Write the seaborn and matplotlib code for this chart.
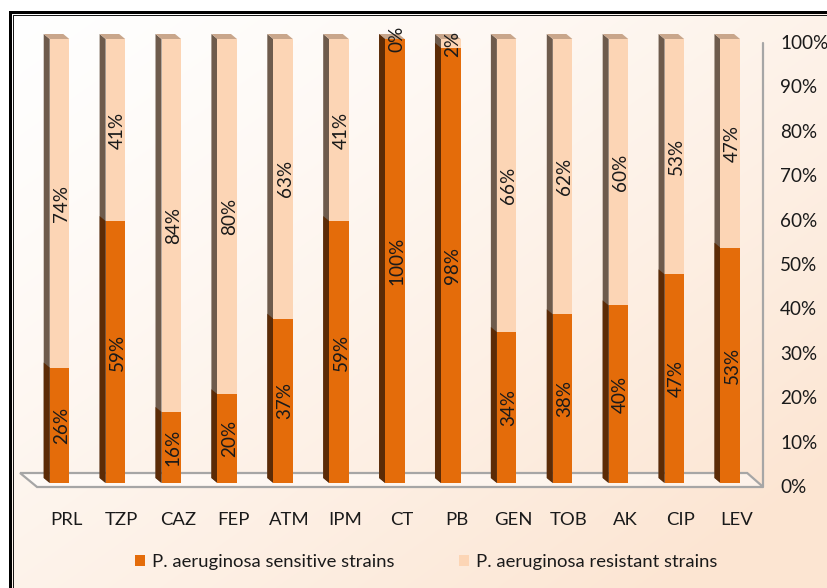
import numpy as np
import pandas as pd
import matplotlib
matplotlib.use("Agg")
import matplotlib.pyplot as plt
import seaborn as sns
from matplotlib.patches import Polygon, Patch
from matplotlib.lines import Line2D
from matplotlib.transforms import ScaledTranslation, blended_transform_factory

categories = ["PRL", "TZP", "CAZ", "FEP", "ATM", "IPM", "CT", "PB", "GEN", "TOB", "AK", "CIP", "LEV"]
sensitive = [26, 59, 16, 20, 37, 59, 100, 98, 34, 38, 40, 47, 53]
resistant = [74, 41, 84, 80, 63, 41, 0, 2, 66, 62, 60, 53, 47]
y_ticks = [0, 10, 20, 30, 40, 50, 60, 70, 80, 90, 100]
y_tick_labels = [f"{t}%" for t in y_ticks]
series_names = ["P. aeruginosa sensitive strains", "P. aeruginosa resistant strains"]

sens_color = "#E46C0A"
res_color = "#FCD5B5"
sens_side = "#5C2B06"
res_side = "#6E5B4C"
cap_color = "#C9A68B"
floor_color = "#A6A6A6"

sns.set_theme(style="white")
plt.rcParams['font.family'] = ['Lato', 'DejaVu Sans']
FS = 13.3      # letters
FS_NUM = 13.6  # numeric labels

W, H = 828, 588
fig = plt.figure(figsize=(W / 100, H / 100), dpi=100)

# background gradient
bg = fig.add_axes([0, 0, 1, 1], zorder=-10)
yy, xx = np.mgrid[0:H, 0:W]
t = np.clip((xx / W) * 0.55 + (yy / H) * 0.55, 0, 1) ** 1.3
top = np.array([255, 255, 255]) / 255
end = np.array([252, 229, 210]) / 255
img = top[None, None, :] * (1 - t[..., None]) + end[None, None, :] * t[..., None]
img[:, :10] = 1
img[:12, :] = 1
bg.imshow(img, aspect="auto", extent=[0, W, H, 0])
bg.set_xlim(0, W)
bg.set_ylim(H, 0)
bg.axis("off")
# double border (left and top)
bg.add_line(Line2D([10, 10, W], [H, 12, 12], color="black", lw=3 * 0.72, solid_joinstyle="miter"))
bg.add_line(Line2D([13, 13, W], [H, 15.2, 15.2], color="black", lw=0.9 * 0.72))

# main axes
left_px, right_px = 31.55, 758.2
bottom_px, top_px = 483, 39
ax = fig.add_axes([left_px / W, (H - bottom_px) / H, (right_px - left_px) / W, (bottom_px - top_px) / H])
ax.patch.set_alpha(0)

df = pd.DataFrame({"category": categories, "sensitive": sensitive, "resistant": resistant})
df["total"] = df["sensitive"] + df["resistant"]

bw = 0.35
sns.barplot(data=df, x="category", y="total", color=res_color, saturation=1, width=bw,
            linewidth=0, ax=ax, zorder=3)
sns.barplot(data=df, x="category", y="sensitive", color=sens_color, saturation=1, width=bw,
            linewidth=0, ax=ax, zorder=4)
ax.set_xlim(-0.5, len(categories) - 0.5)
ax.set_ylim(0, 100)

# 3D depth in data units (-6px, +5px)
px_x = (right_px - left_px) / len(categories)
px_y = (bottom_px - top_px) / 100
dx, dy = -6 / px_x, 5 / px_y

n = len(categories)
patches = list(ax.patches)
total_bars, sens_bars = patches[:n], patches[n:2 * n]
for p in total_bars:
    x0, w, h = p.get_x(), p.get_width(), p.get_height()
    ax.add_patch(Polygon([(x0, 0), (x0 + dx, dy), (x0 + dx, h + dy), (x0, h)], closed=True,
                         facecolor=res_side, edgecolor="none", zorder=2, clip_on=False))
    ax.add_patch(Polygon([(x0, h), (x0 + w, h), (x0 + w + dx, h + dy), (x0 + dx, h + dy)], closed=True,
                         facecolor=cap_color, edgecolor="none", zorder=2, clip_on=False))
for p in sens_bars:
    x0, w, h = p.get_x(), p.get_width(), p.get_height()
    ax.add_patch(Polygon([(x0, 0), (x0 + dx, dy), (x0 + dx, h + dy), (x0, h)], closed=True,
                         facecolor=sens_side, edgecolor="none", zorder=2.5, clip_on=False))

# floor and right wall edge
xl, xr = ax.get_xlim()
f_front_y, f_back_y = -4 / px_y, 10 / px_y
f_front = (xl + 5.5 / px_x, xr + 5 / px_x)
f_back = (xl - 11.5 / px_x, xr - 11 / px_x)
ax.add_patch(Polygon([(f_front[0], f_front_y), (f_front[1], f_front_y), (f_back[1], f_back_y),
                      (f_back[0], f_back_y)], closed=True, facecolor=(1, 1, 1, 0.5),
                     edgecolor=floor_color, lw=1.6, zorder=1, clip_on=False))
ax.plot([f_front[1], f_front[1]], [f_front_y, 100 - 4 / px_y], color=floor_color, lw=1.6,
        zorder=1, clip_on=False)

# value labels
lab_shift = 2 / px_x
for i, (s, r) in enumerate(zip(sensitive, resistant)):
    ax.text(i + lab_shift, s / 2, f"{s}%", rotation=90, ha="center", va="center", fontsize=FS_NUM,
            color="#1a1a1a", zorder=6, rotation_mode="anchor")
    ax.text(i + lab_shift, s + r / 2, f"{r}%", rotation=90, ha="center", va="center", fontsize=FS_NUM,
            color="#1a1a1a", zorder=6, rotation_mode="anchor")

# axes styling
for sp in ax.spines.values():
    sp.set_visible(False)
ax.set_xlabel("")
ax.set_ylabel("")
ax.set_yticks([])
ax.tick_params(axis="x", length=0, pad=21, labelsize=FS, colors="#1a1a1a")
for lbl in ax.get_xticklabels():
    lbl.set_transform(lbl.get_transform() + ScaledTranslation(0.065, 0, fig.dpi_scale_trans))

# right y labels
ytrans = blended_transform_factory(fig.transFigure, ax.transData) + \
    ScaledTranslation(0, -0.045, fig.dpi_scale_trans)
for tv, lab in zip(y_ticks, y_tick_labels):
    ax.text(780 / W, tv, lab, transform=ytrans, ha="left", va="center", fontsize=FS_NUM, color="#1a1a1a")

# legend
handles = [Patch(facecolor=sens_color, edgecolor="none"), Patch(facecolor=res_color, edgecolor="none")]
fig.legend(handles, series_names, loc="center", bbox_to_anchor=(426 / W, 1 - 562 / H), ncol=2,
           frameon=False, fontsize=FS, handlelength=0.55, handleheight=0.6, handletextpad=0.35,
           columnspacing=3.5, labelcolor="#1a1a1a")

fig.savefig("out.png", dpi=100)
